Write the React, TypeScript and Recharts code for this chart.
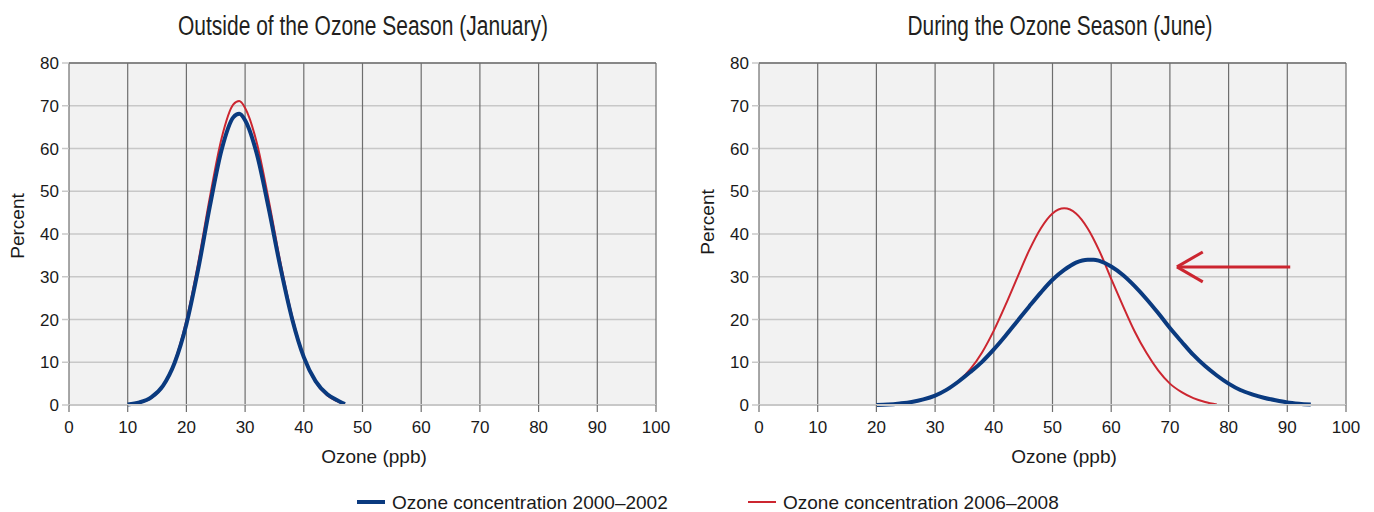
import React from 'react';
import { LineChart, Line, XAxis, YAxis, CartesianGrid, ReferenceLine } from 'recharts';

// ---------- data ----------
const xTicks = [0, 10, 20, 30, 40, 50, 60, 70, 80, 90, 100];
const yTicks = [0, 10, 20, 30, 40, 50, 60, 70, 80];

const titles = ['Outside of the Ozone Season (January)', 'During the Ozone Season (June)'];
const seriesNames = ['Ozone concentration 2000\u20132002', 'Ozone concentration 2006\u20132008'];

const janOzoneA = [10, 12, 14, 16, 18, 20, 22, 24, 26, 28, 29, 30, 32, 34, 36, 38, 40, 42, 44, 46, 47];
const janPctA = [0.1, 0.6, 1.8, 4.5, 9.9, 18.9, 31.7, 46.5, 59.7, 67.3, 68.1, 66.6, 58.7, 46.1, 32.3, 20.2, 11.2, 5.6, 2.5, 0.9, 0.2];

const janOzoneB = [10, 12, 14, 16, 18, 20, 22, 24, 26, 28, 29, 30, 32, 34, 36, 38, 40, 42, 44, 46, 47];
const janPctB = [0.0, 0.5, 1.6, 4.4, 10.2, 19.8, 33.2, 48.6, 62.4, 70.3, 71.1, 69.5, 61.3, 48.1, 33.5, 20.8, 11.2, 5.4, 2.2, 0.7, 0.1];

const junOzoneA = [20, 22, 24, 26, 28, 30, 32, 34, 36, 38, 40, 42, 44, 46, 48, 50, 52, 54, 56, 57, 58, 60, 62, 64, 66, 68, 70, 72, 74, 76, 78, 80, 82, 84, 86, 88, 90, 92, 94];
const junPctA = [0, 0.1, 0.35, 0.7, 1.3, 2.2, 3.6, 5.5, 7.7, 10.1, 13.0, 16.2, 19.6, 23.0, 26.3, 29.3, 31.6, 33.3, 34.0, 34.0, 33.7, 32.4, 30.4, 27.8, 24.8, 21.5, 18.0, 14.8, 11.7, 9.1, 6.9, 5.0, 3.5, 2.5, 1.7, 1.1, 0.6, 0.3, 0.1];

const junOzoneB = [20, 22, 24, 26, 28, 30, 32, 34, 36, 38, 40, 42, 44, 46, 48, 50, 52, 54, 56, 58, 60, 62, 64, 66, 68, 70, 72, 74, 76, 78];
const junPctB = [0, 0.1, 0.35, 0.7, 1.3, 2.2, 3.6, 5.6, 8.4, 12.3, 17.4, 23.4, 29.8, 36.1, 41.3, 44.8, 46.0, 44.8, 41.3, 36.0, 29.5, 23.2, 17.2, 12.2, 8.1, 5.0, 3.0, 1.6, 0.7, 0.1];

// arrow annotation (data units) in the June chart
const arrowShaft = [{ x: 90.5, y: 32.3 }, { x: 71.2, y: 32.3 }];
const arrowHeadUp = [{ x: 71.2, y: 32.3 }, { x: 75.6, y: 35.8 }];
const arrowHeadDown = [{ x: 71.2, y: 32.3 }, { x: 75.6, y: 28.8 }];

const toRows = (xs: number[], ys: number[]) => xs.map((x, i) => ({ x, y: ys[i] }));

// ---------- styles ----------
const BLUE = '#0a3a7f';
const RED = '#cc2630';
const GRID_DARK = '#6e6e6e';
const GRID_LIGHT = '#c8c8c8';
const BG = '#f2f2f2';
const FONT = '"Liberation Sans", Arial, sans-serif';
const TEXT = '#1a1a1a';

const CH_W = 680;
const CH_H = 480;
const MARGIN = { top: 63, right: 24, left: 0, bottom: 45 };

type PanelProps = {
  left: number;
  a: { x: number; y: number }[];
  b: { x: number; y: number }[];
  arrow?: boolean;
};

function Panel({ left, a, b, arrow }: PanelProps) {
  const tick = { fontSize: 17, fill: TEXT, fontFamily: FONT };
  return (
    <div style={{ position: 'absolute', left, top: 0 }}>
      <LineChart width={CH_W} height={CH_H} margin={MARGIN}>
        <CartesianGrid vertical={false} stroke={GRID_LIGHT} strokeWidth={1.5} fill={BG} horizontalValues={yTicks} />
        <CartesianGrid horizontal={false} stroke={GRID_DARK} strokeWidth={1.2} verticalValues={xTicks} />
        <XAxis
          type="number"
          dataKey="x"
          domain={[0, 100]}
          ticks={xTicks}
          interval={0}
          height={30}
          tick={tick}
          tickSize={7}
          tickMargin={9}
          tickLine={{ stroke: GRID_DARK, strokeWidth: 1.2 }}
          axisLine={{ stroke: GRID_LIGHT, strokeWidth: 2 }}
          allowDataOverflow
        />
        <YAxis
          type="number"
          domain={[0, 80]}
          ticks={yTicks}
          interval={0}
          width={69}
          tick={tick}
          tickSize={7}
          tickMargin={3}
          tickLine={{ stroke: GRID_LIGHT, strokeWidth: 1.5 }}
          axisLine={false}
        />
        <ReferenceLine y={80} stroke={GRID_DARK} strokeWidth={1.5} />
        <Line data={b} dataKey="y" type="monotone" stroke={RED} strokeWidth={2} dot={false} isAnimationActive={false} />
        <Line data={a} dataKey="y" type="monotone" stroke={BLUE} strokeWidth={4} dot={false} isAnimationActive={false} />
        {arrow && (
          <ReferenceLine segment={arrowShaft} stroke={RED} strokeWidth={3} ifOverflow="visible" />
        )}
        {arrow && (
          <ReferenceLine segment={arrowHeadUp} stroke={RED} strokeWidth={3} ifOverflow="visible" />
        )}
        {arrow && (
          <ReferenceLine segment={arrowHeadDown} stroke={RED} strokeWidth={3} ifOverflow="visible" />
        )}
      </LineChart>
    </div>
  );
}

export default function App() {
  const janA = toRows(janOzoneA, janPctA);
  const janB = toRows(janOzoneB, janPctB);
  const junA = toRows(junOzoneA, junPctA);
  const junB = toRows(junOzoneB, junPctB);
  return (
    <div style={{ position: 'absolute', left: 0, top: 0, width: 1374, height: 512, background: '#fff', overflow: 'hidden' }}>
      <Panel left={0} a={janA} b={janB} />
      <Panel left={690} a={junA} b={junB} arrow />
      <svg width={1374} height={512} style={{ position: 'absolute', left: 0, top: 0, pointerEvents: 'none' }}>
        <g fontFamily={FONT} fontSize={27} fill="#231f20" textAnchor="middle">
          <text x={363} y={35} textLength={370} lengthAdjust="spacingAndGlyphs">{titles[0]}</text>
          <text x={1060} y={35} textLength={305} lengthAdjust="spacingAndGlyphs">{titles[1]}</text>
        </g>
        <g fontFamily={FONT} fontSize={19} fill={TEXT} textAnchor="middle">
          <text x={374} y={463}>Ozone (ppb)</text>
          <text x={1064} y={463}>Ozone (ppb)</text>
          <text transform="translate(24,226) rotate(-90)">Percent</text>
          <text transform="translate(714,222) rotate(-90)">Percent</text>
        </g>
        <g fontFamily={FONT} fontSize={19} fill={TEXT}>
          <line x1={357} x2={385} y1={502} y2={502} stroke={BLUE} strokeWidth={4} />
          <text x={392} y={509}>{seriesNames[0]}</text>
          <line x1={748} x2={776} y1={502} y2={502} stroke={RED} strokeWidth={2} />
          <text x={783} y={509}>{seriesNames[1]}</text>
        </g>
      </svg>
    </div>
  );
}
